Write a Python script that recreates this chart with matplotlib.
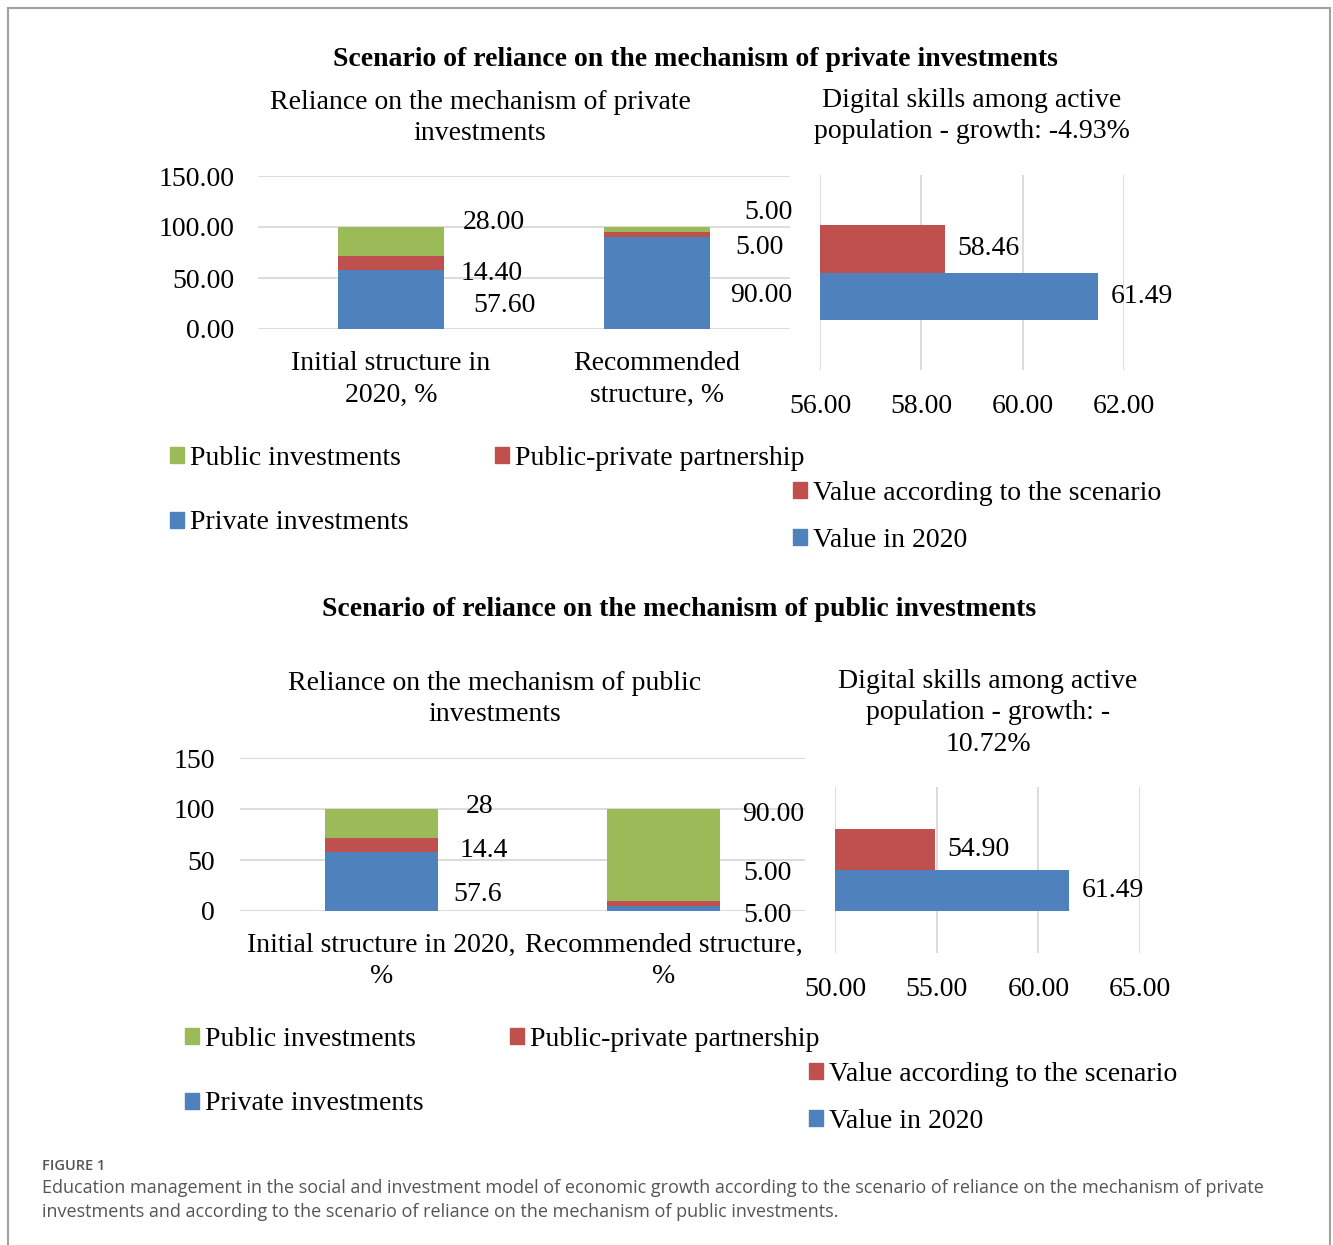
import matplotlib.pyplot as plt
from matplotlib.patches import Patch, Rectangle
from matplotlib.ticker import FormatStrFormatter

# data
series = ["Public investments", "Public-private partnership", "Private investments"]
colors = {"Public investments": "#9BBB59",
          "Public-private partnership": "#C0504D",
          "Private investments": "#4F81BD"}

cats_private = ["Initial structure in\n2020, %", "Recommended\nstructure, %"]
private_public = [28.0, 5.0]
private_ppp = [14.4, 5.0]
private_private = [57.6, 90.0]

cats_public = ["Initial structure in 2020,\n%", "Recommended structure,\n%"]
public_public = [28.0, 90.0]
public_ppp = [14.4, 5.0]
public_private = [57.6, 5.0]

skill_series = ["Value according to the scenario", "Value in 2020"]
skill_colors = ["#C0504D", "#4F81BD"]
skills_private = [58.46, 61.49]
skills_public = [54.90, 61.49]

W, H = 1333, 1245
fig = plt.figure(figsize=(W / 100, H / 100), dpi=100)
plt.rcParams['font.family'] = 'Liberation Serif'
FS = 20
LS = 1.33
grid_c = "#D9D9D9"


def box(l, t, r, b):
    return [l / W, 1 - b / H, (r - l) / W, (b - t) / H]


def ftext(x, y, s, **kw):
    fig.text(x / W, 1 - y / H, s, ha='center', va='center', **kw)


def stacked(ax, cats, pub, ppp, priv, fmts, offsets, ylabfmt, ypad):
    x = range(len(cats))
    ax.bar(x, priv, 0.4, color=colors["Private investments"], zorder=3)
    ax.bar(x, ppp, 0.4, bottom=priv, color=colors["Public-private partnership"], zorder=3)
    bot2 = [a + b for a, b in zip(priv, ppp)]
    ax.bar(x, pub, 0.4, bottom=bot2, color=colors["Public investments"], zorder=3)
    ax.set_xlim(-0.5, len(cats) - 0.5)
    ax.set_ylim(0, 150)
    ax.set_yticks([0, 50, 100, 150])
    ax.yaxis.set_major_formatter(FormatStrFormatter(ylabfmt))
    ax.set_xticks(list(x))
    ax.set_xticklabels(cats, fontsize=FS, linespacing=LS)
    ax.tick_params(axis='x', length=0, pad=16)
    ax.tick_params(axis='y', length=0, pad=ypad, labelsize=FS)
    ax.grid(axis='y', color=grid_c, lw=1.3, zorder=0)
    for s in ax.spines.values():
        s.set_visible(False)
    # data labels: private, ppp, public per bar
    k = 0
    for i in x:
        segs = [(priv[i], 0), (ppp[i], priv[i]), (pub[i], bot2[i])]
        for val, b in segs:
            dx, dy = offsets[k]
            ax.annotate(fmts[i].format(val), (i + 0.2, b + val / 2),
                        xytext=(dx, dy), textcoords='offset pixels',
                        ha='left', va='center', fontsize=FS)
            k += 1


def hbars(ax, vals, xlim, ticks):
    ax.barh([0.123, -0.123], [v - xlim[0] for v in vals], 0.246, left=xlim[0],
            color=skill_colors, zorder=3)
    ax.set_xlim(*xlim)
    ax.set_ylim(-0.5, 0.5)
    ax.set_xticks(ticks)
    ax.xaxis.set_major_formatter(FormatStrFormatter('%.2f'))
    ax.set_yticks([])
    ax.tick_params(axis='x', length=0, pad=17, labelsize=FS)
    ax.grid(axis='x', color=grid_c, lw=1.3, zorder=0)
    for s in ax.spines.values():
        s.set_visible(False)
    for y, v in zip([0.123, -0.123], vals):
        ax.annotate(f"{v:.2f}", (v, y), xytext=(13, 0), textcoords='offset pixels',
                    ha='left', va='center', fontsize=FS)


def bar_legend(x, y):
    l = ["Public investments", "Private investments", "Public-private partnership"]
    h = [Patch(color=colors[s]) for s in l]
    fig.legend(h, l, loc='upper left', bbox_to_anchor=(x / W, 1 - y / H), ncol=2,
               frameon=False, fontsize=FS, handlelength=0.5, handleheight=0.5,
               handletextpad=0.22, columnspacing=3.1, labelspacing=1.42, borderpad=0,
               borderaxespad=0)


def skill_legend(x, y):
    h = [Patch(color=c) for c in skill_colors]
    fig.legend(h, skill_series, loc='upper left', bbox_to_anchor=(x / W, 1 - y / H),
               frameon=False, fontsize=FS, handlelength=0.5, handleheight=0.5,
               handletextpad=0.22, labelspacing=0.8, borderpad=0, borderaxespad=0)


# top scenario
ftext(695, 59, "Scenario of reliance on the mechanism of private investments",
      fontsize=20, fontweight='bold')
ftext(480, 118, "Reliance on the mechanism of private\ninvestments", fontsize=FS, linespacing=LS)
ftext(972, 116, "Digital skills among active\npopulation - growth: -4.93%", fontsize=FS, linespacing=LS)

ax1 = fig.add_axes(box(258, 176, 790, 329))
stacked(ax1, cats_private, private_public, private_ppp, private_private,
        ["{:.2f}", "{:.2f}"],
        [(29, -6), (16, -11), (19, 19), (20, -12), (25, -13), (34, 17)], '%.2f', 17)

ax2 = fig.add_axes(box(820, 175, 1124, 370))
hbars(ax2, skills_private, (56, 62), [56, 58, 60, 62])

bar_legend(170, 446)
skill_legend(793, 481)

# bottom scenario
ftext(679, 610, "Scenario of reliance on the mechanism of public investments",
      fontsize=20, fontweight='bold')
ftext(495, 699, "Reliance on the mechanism of public\ninvestments", fontsize=FS, linespacing=LS)
ftext(988, 713, "Digital skills among active\npopulation - growth: -\n10.72%", fontsize=FS, linespacing=LS)

ax3 = fig.add_axes(box(240, 758, 805, 911))
stacked(ax3, cats_public, public_public, public_ppp, public_private,
        ["{:g}", "{:.2f}"],
        [(16, -13), (22, -6), (28, 17), (23, -7), (23, 30), (22, 40)], '%d', 18)

ax4 = fig.add_axes(box(835, 787, 1140, 953))
hbars(ax4, skills_public, (50, 65), [50, 55, 60, 65])

bar_legend(185, 1027)
skill_legend(809, 1062)

# caption
cap_kw = dict(family='Open Sans', color='#555555', va='center')
fig.text(42 / W, 1 - 1166 / H, "FIGURE 1", fontsize=10.5, fontweight='semibold', **cap_kw)
fig.text(42 / W, 1 - 1188 / H,
         "Education management in the social and investment model of economic growth according "
         "to the scenario of reliance on the mechanism of private", fontsize=13, **cap_kw)
fig.text(42 / W, 1 - 1212 / H,
         "investments and according to the scenario of reliance on the mechanism of public investments.",
         fontsize=13, **cap_kw)

fig.patches.append(Rectangle((8 / W, -0.01), 1322 / W, 1 - 8 / H + 0.01, transform=fig.transFigure,
                             fill=False, edgecolor='#A0A0A0', lw=1.5))

fig.savefig('out.png', dpi=100)
